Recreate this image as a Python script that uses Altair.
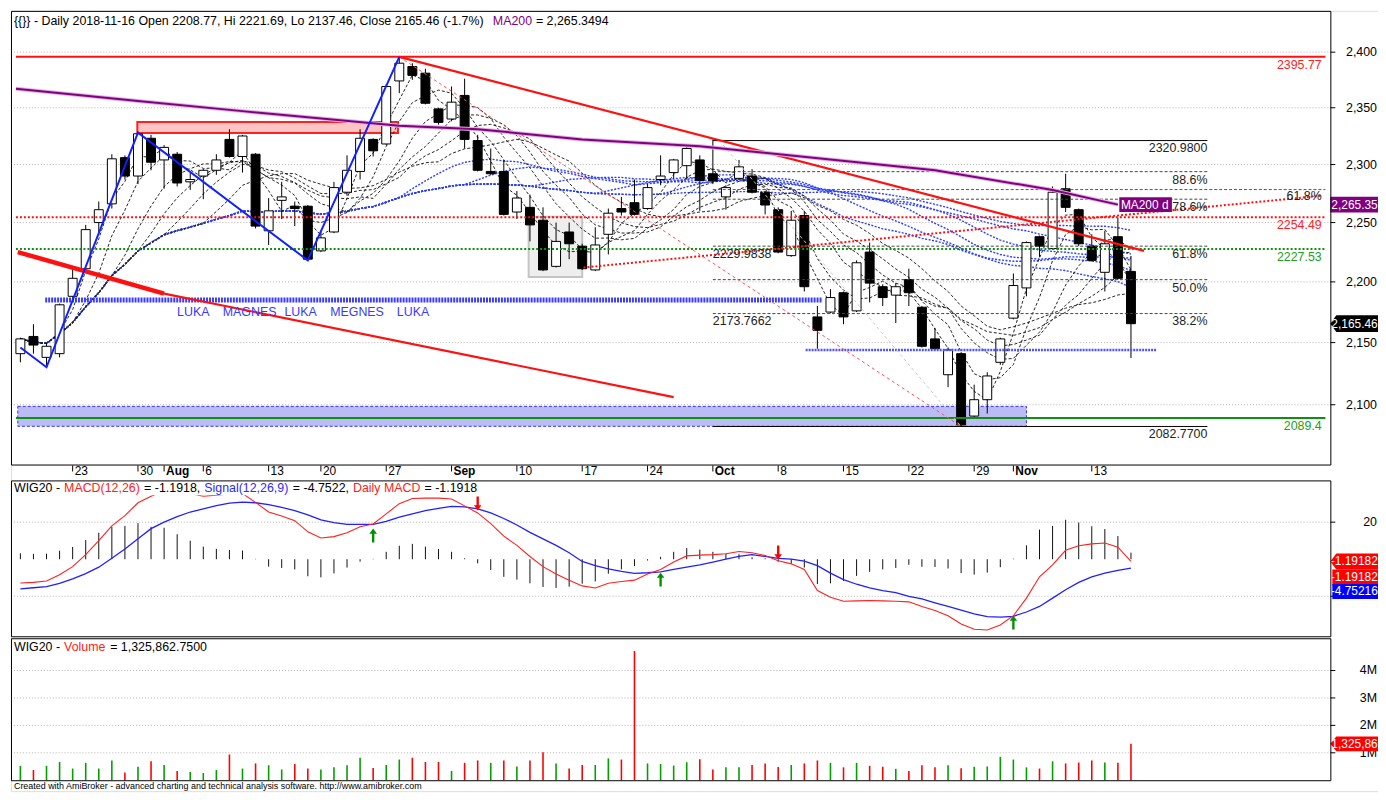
import altair as alt
import pandas as pd

FONT = "Liberation Sans"

# ---------------- data ----------------
idx = list(range(-4, 82))  # trading-day index, 0 = 2018-07-23

opens = [2141, 2155, 2138, 2141,
         2188, 2211, 2250, 2266, 2306,
         2290, 2323, 2304, 2309, 2285,
         2290, 2295, 2322, 2307, 2309,
         2243, 2269, 2264, 2264,
         2226, 2242, 2276, 2294, 2322,
         2318, 2374, 2387, 2381, 2349,
         2340, 2361, 2321, 2294, 2294,
         2259, 2263, 2252, 2213, 2242,
         2230, 2210, 2240, 2262, 2267,
         2262, 2287, 2293, 2299, 2304,
         2292, 2272, 2288, 2290, 2276,
         2261, 2222, 2256, 2171, 2175,
         2191, 2176, 2225, 2196, 2189,
         2202, 2179, 2153, 2124, 2141,
         2091, 2104, 2134, 2170,
         2195, 2238, 2228, 2279, 2261,
         2230, 2208, 2238, 2208.77]
highs = [2154, 2165, 2150, 2182,
         2211, 2248, 2268, 2309, 2308,
         2329, 2326, 2317, 2311, 2293,
         2296, 2309, 2331, 2326, 2310,
         2271, 2285, 2268, 2265,
         2242, 2285, 2308, 2331, 2323,
         2371, 2395.77, 2390, 2385, 2350,
         2369, 2376, 2326, 2314, 2304,
         2277, 2274, 2263, 2250, 2250,
         2232, 2246, 2262, 2272, 2287,
         2283, 2308, 2305, 2316, 2308,
         2322, 2282, 2304, 2296, 2277,
         2263, 2260, 2260, 2180, 2194,
         2192, 2218, 2233, 2198, 2199,
         2211, 2180, 2162, 2146, 2142,
         2116, 2126, 2154, 2207,
         2234, 2239, 2281, 2292, 2262,
         2240, 2243, 2254, 2221.69]
lows = [2134, 2141, 2130, 2138,
        2185, 2209, 2242, 2262, 2287,
        2283, 2295, 2279, 2281, 2278,
        2270, 2291, 2306, 2293, 2245,
        2231, 2253, 2247, 2218,
        2225, 2241, 2273, 2287, 2307,
        2317, 2363, 2375, 2353, 2335,
        2338, 2314, 2294, 2291, 2256,
        2253, 2234, 2209, 2212, 2219,
        2210, 2209, 2223, 2256, 2256,
        2261, 2282, 2288, 2287, 2260,
        2283, 2261, 2287, 2275, 2257,
        2224, 2221, 2192, 2145, 2174,
        2165, 2175, 2183, 2180, 2166,
        2180, 2146, 2144, 2114, 2082.77,
        2089, 2093, 2132, 2169,
        2188, 2221, 2227, 2259, 2230,
        2217, 2192, 2202, 2137.46]
closes = [2153, 2148, 2147, 2181,
          2203, 2244, 2261, 2305, 2290,
          2327, 2302, 2315, 2284, 2287,
          2295, 2304, 2307, 2325, 2247,
          2260, 2272, 2262, 2219,
          2237, 2280, 2295, 2323, 2312,
          2369, 2390, 2379, 2354, 2337,
          2355, 2322, 2295, 2292, 2257,
          2271, 2248, 2210, 2234, 2232,
          2211, 2231, 2258, 2259, 2257,
          2280, 2290, 2304, 2314, 2286,
          2286, 2280, 2298, 2276, 2265,
          2225, 2252, 2196, 2160, 2187,
          2171, 2216, 2199, 2187, 2196,
          2191, 2147, 2145, 2144, 2084,
          2104, 2123, 2153, 2197,
          2233, 2230, 2276, 2263, 2232,
          2218, 2232, 2203, 2165.46]

macd = [-12.8, -12.5, -11.8, -8.4,
        -4, 2.5, 10, 18, 23.5,
        30.5, 34, 37, 36.5, 35.5,
        34, 34.6, 35.3, 35.5, 30.7,
        25.5, 23.3, 20.8, 14.8,
        11.5, 12.2, 14.3, 17.5, 19,
        24.5, 30, 32.8, 33, 33,
        32.5, 28.8, 25, 19.2, 12.5,
        7.5, 1.5, -4, -8, -11.3,
        -14.4, -15.5, -13, -12, -11.3,
        -8, -5.5, -1.5, 1.8, 2.2,
        2.5, 3, 4.2, 3.5, 2,
        -0.8, -2.5, -5.5, -16.9, -20.5,
        -22.7, -22.5, -22.3, -22.5, -22.7,
        -23, -25.5, -27.7, -30.5, -35,
        -37.8, -38.2, -35.5, -30.5,
        -21, -9.5, -3, 4.8, 7.3,
        8.3, 8.8, 6.5, -1.19182]
signal = [-16, -15.4, -14.8, -13,
          -10.6, -7.8, -4.3, 0.5, 5.5,
          11, 16.5, 20, 23, 25.5,
          27.2, 29, 30.3, 30.8, 30.5,
          29.5, 28, 26.3, 24,
          21.3, 19.8, 18.8, 18.8, 18.8,
          20.5, 22.7, 24.5, 26.2, 27.5,
          28.5, 28.3, 27.2, 25, 22,
          18.5, 14.5, 11, 7.5, 3.5,
          -1.2, -3.5, -5.2, -6.5, -7.6,
          -7.3, -6.8, -5.5, -4.2, -3,
          -1.5, 0, 1.5, 2.5, 1.5,
          0.5, 0, -1, -3.5, -7.5,
          -11, -13.5, -15.5, -17, -18,
          -20, -21.4, -23.5, -25.5, -27.5,
          -29.5, -31, -31.2, -30.8,
          -28.5, -25.5, -21, -16.5, -12.5,
          -9.5, -7.5, -6, -4.75216]

volume_m = [0.525, 0.372, 0.525, 0.666,
            0.426, 0.634, 0.426, 0.721, 0.284,
            0.492, 0.689, 0.557, 0.339, 0.306,
            0.262, 0.372, 0.940, 0.426, 0.612,
            0.546, 0.393, 0.590, 0.426,
            0.393, 0.470, 0.546, 0.820, 0.448,
            0.557, 0.754, 0.820, 0.666, 0.666,
            0.339, 0.634, 0.721, 0.634, 0.721,
            0.503, 0.721, 1.016, 0.612, 0.426,
            0.557, 0.557, 0.798, 0.754, 4.71,
            0.612, 0.590, 0.535, 0.656, 0.765,
            0.393, 0.470, 0.470, 0.557, 0.612,
            0.481, 0.557, 0.612, 0.721, 0.634,
            0.470, 0.634, 0.525, 0.492, 0.415,
            0.339, 0.546, 0.470, 0.546, 0.437,
            0.492, 0.503, 0.852, 0.754,
            0.470, 0.426, 0.689, 0.612, 0.645,
            0.721, 0.645, 0.634, 1.3258627500]
volume_up = [1, 0, 1, 1,
             1, 1, 1, 1, 0,
             1, 0, 1, 0, 1,
             1, 1, 0, 1, 0,
             1, 1, 0, 0,
             1, 1, 1, 1, 0,
             1, 1, 0, 0, 0,
             1, 0, 0, 1, 0,
             1, 0, 0, 1, 0,
             0, 1, 1, 0, 0,
             1, 1, 1, 1, 0,
             0, 1, 1, 0, 0,
             0, 1, 0, 0, 1,
             0, 1, 0, 0, 1,
             0, 0, 0, 1, 0,
             1, 1, 1, 1,
             1, 0, 1, 0, 0,
             0, 1, 0, 0]

date_ticks = [0, 5, 7, 10, 15, 19, 24, 29, 34, 39, 44, 49, 54, 59, 64, 69, 72, 78]
date_labels = ["23", "30", "Aug", "6", "13", "20", "27", "Sep", "10", "17", "24",
               "Oct", "8", "15", "22", "29", "Nov", "13"]
date_bold = [0, 0, 1, 0, 0, 0, 0, 1, 0, 0, 0, 1, 0, 0, 0, 0, 1, 0]
price_ticks = [2100, 2150, 2200, 2250, 2300, 2350, 2400]
macd_ticks = [20, -20]
macd_tick_labels = ["20", ""]
volume_ticks = [1e6, 2e6, 3e6, 4e6]
volume_tick_labels = ["1M", "2M", "3M", "4M"]

black_periods = [3, 5, 8, 10, 12, 15]
blue_periods = [30, 35, 40, 45, 50, 60]

zigzag_i = [-4, -2, 5, 18, 25]
zigzag_p = [2146, 2130, 2328, 2218, 2395.77]
ma200_i = [-4.34, 5, 13, 25, 31, 39, 48, 66, 75, 80]
ma200_p = [2367, 2356, 2347, 2334, 2331, 2322, 2316, 2295, 2278, 2265.35]
fib_levels = [2293.82, 2270.00, 2229.98, 2201.88, 2173.77]
fib_names = ["88.6%", "78.6%", "61.8%", "50.0%", "38.2%"]

up_i = [23, 45, 72]
up_v = [12.8, -11.0, -34.2]
dn_i = [31, 54]
dn_v = [30.1, 3.6]

# ---------------- geometry (svg pixels; page = svg + 8) ----------------
SVG_W, SVG_H = 1377, 786
XMIN, XMAX = -4.34, 95.88
XL, XR = 0, 1329             # panel frame left / right
P_TOP, P_BOT = 0.5, 457.5    # price frame
M_TOP, M_BOT = 473.5, 630.5  # MACD frame
V_TOP, V_BOT = 632.5, 775.5  # volume frame

XS = alt.Scale(domain=[XMIN, XMAX], range=[XL, XR], nice=False, zero=False)
YS = alt.Scale(type="log", domain=[2052.96, 2437.86], range=[457, 0], nice=False)
MS = alt.Scale(domain=[-41.6, 42.55], range=[630, 473], nice=False, zero=False)
VS = alt.Scale(domain=[0, 5.14e6], range=[775, 633], nice=False, zero=False)

ONE = pd.DataFrame({"a": [0]})


def X(f):
    return alt.X(f, type="quantitative", scale=XS, axis=None)


def Y(f, s):
    return alt.Y(f, type="quantitative", scale=s, axis=None)


def label(t, px, py, color="black", size=12.5, align="left", weight="normal"):
    return alt.Chart(ONE).mark_text(
        text=t, align=align, baseline="middle", font=FONT, fontSize=size,
        color=color, fontWeight=weight
    ).encode(x=alt.value(px), y=alt.value(py))


def frame(y1, y2):
    return alt.Chart(ONE).mark_rect(fillOpacity=0, stroke="black", strokeWidth=1).encode(
        x=alt.value(XL + 0.5), x2=alt.value(XR + 0.5), y=alt.value(y1), y2=alt.value(y2))


def right_axis(values, texts, s):
    d = pd.DataFrame({"v": values, "t": texts})
    grid = alt.Chart(d).mark_rule(color="#b4b4b4", strokeDash=[1, 2], strokeWidth=1).encode(
        x=alt.value(XL), x2=alt.value(XR), y=Y("v", s))
    ticks = alt.Chart(d).mark_rule(color="black", strokeWidth=1).encode(
        x=alt.value(XR), x2=alt.value(XR + 5), y=Y("v", s))
    labs = alt.Chart(d).mark_text(align="right", baseline="middle", font=FONT,
                                  fontSize=12.5, color="black").encode(
        x=alt.value(1376), y=Y("v", s), text="t:N")
    return [grid, ticks, labs]


def box_path(w, h, tip=0.0):
    r = h / w
    if tip:
        a = 1 - 2 * tip / w
        return f"M-1,0L{-a:.4f},{-r:.4f}L1,{-r:.4f}L1,{r:.4f}L{-a:.4f},{r:.4f}Z"
    return f"M-1,{-r:.4f}L1,{-r:.4f}L1,{r:.4f}L-1,{r:.4f}Z"


def value_box(s, value, cx, w, h, fill, text, tx, tip=0.0):
    d = pd.DataFrame({"v": [value]})
    b = alt.Chart(d).mark_point(
        shape=box_path(w, h, tip), size=w * w, filled=True, color=fill,
        opacity=1, strokeWidth=0
    ).encode(x=alt.value(cx), y=Y("v", s))
    t = alt.Chart(d).mark_text(
        text=text, align="left", baseline="middle", color="white",
        font=FONT, fontSize=12
    ).encode(x=alt.value(tx), y=Y("v", s))
    return [b, t]


def hseg(i1, i2, p, color, width, dash=None):
    d = pd.DataFrame({"i1": [i1], "i2": [i2], "p": [p]})
    kw = dict(color=color, strokeWidth=width)
    if dash:
        kw["strokeDash"] = dash
    return alt.Chart(d).mark_rule(**kw).encode(x=X("i1"), x2="i2:Q", y=Y("p", YS))


def seg(i_list, p_list, color, width, dash=None):
    d = pd.DataFrame({"i": i_list, "p": p_list, "o": list(range(len(i_list)))})
    kw = dict(color=color, strokeWidth=width)
    if dash:
        kw["strokeDash"] = dash
    return alt.Chart(d).mark_line(**kw).encode(x=X("i"), y=Y("p", YS), order="o:Q")


def rect(i1, i2, p1, p2, fill, stroke, sw, dash=None, op=1.0):
    d = pd.DataFrame({"i1": [i1], "i2": [i2], "p1": [p1], "p2": [p2]})
    kw = dict(fill=fill, stroke=stroke, strokeWidth=sw, fillOpacity=op)
    if dash:
        kw["strokeDash"] = dash
    return alt.Chart(d).mark_rect(**kw).encode(x=X("i1"), x2="i2:Q", y=Y("p1", YS), y2="p2:Q")


def ptext(i_list, p_list, t_list, color, align, baseline="top", dy=2):
    d = pd.DataFrame({"i": i_list, "p": p_list, "t": t_list})
    return alt.Chart(d).mark_text(
        align=align, baseline=baseline, dy=dy, font=FONT, fontSize=12.5, color=color
    ).encode(x=X("i"), y=Y("p", YS), text="t:N")


# ---------------- price panel ----------------
df = pd.DataFrame({"i": idx, "o": opens, "h": highs, "l": lows, "c": closes})

wick = alt.Chart(df).mark_rule(color="black", strokeWidth=1).encode(
    x=X("i"), y=Y("l", YS), y2="h:Q")
body = alt.Chart(df).mark_bar(size=9, stroke="black", strokeWidth=1).encode(
    x=X("i"), y=Y("o", YS), y2="c:Q",
    fill=alt.condition("datum.c >= datum.o", alt.value("white"), alt.value("black")),
)

rib = alt.Chart(df)
for n in black_periods + blue_periods:
    rib = rib.transform_window(**{f"m{n}": "mean(c)"}, frame=[-(n - 1), 0],
                               sort=[alt.SortField("i")])
rib_black = rib.transform_fold([f"m{n}" for n in black_periods], as_=["k", "v"]).mark_line(
    color="#222222", strokeWidth=1, strokeDash=[3, 2]
).encode(x=X("i"), y=Y("v", YS), detail="k:N")
rib_blue = rib.transform_fold([f"m{n}" for n in blue_periods], as_=["k", "v"]).mark_line(
    color="#2a3cff", strokeWidth=1.4, strokeDash=[2, 1.5]
).encode(x=X("i"), y=Y("v", YS), detail="k:N")

fib_end = 86.85
RIGHT_I = 95.6
layers = []
layers += right_axis(price_ticks, [f"{p:,}" for p in price_ticks], YS)
layers += [
    rect(-4.2, 73.0, 2098.7, 2082.9, "#b8b8f4", "#3030ff", 1, [3, 2], 0.95),
    rect(4.95, 24.9, 2337.3, 2327.6, "#ffc4c4", "#ff2020", 2),
    rect(34.9, 39.0, 2255.0, 2204.0, "#eeeeee", "#c4c4c4", 2),
    rib_blue,
    rib_black,
    wick,
    body,
    hseg(XMIN, XMAX, 2395.77, "#ff1010", 2),
    hseg(XMIN, XMAX, 2254.49, "#ff1010", 2, [2, 2]),
    hseg(XMIN, XMAX, 2227.53, "#109010", 2, [2, 2]),
    hseg(XMIN, XMAX, 2089.4, "#109010", 2),
    hseg(49, fib_end, 2320.98, "black", 1),
    hseg(49, fib_end, 2082.77, "black", 1),
    hseg(49, XMAX, 2278.3, "#555555", 1, [3, 2]),
    hseg(-2.1, 57.4, 2185.0, "#3c3cff", 5, [2, 1]),
    hseg(56.1, 83.0, 2144.0, "#5050ff", 2.5, [2, 1]),
]
for lv in fib_levels:
    layers.append(hseg(49, fib_end, lv, "#444444", 1, [3, 2]))

layers += [
    seg([25, 68], [2395.77, 2082.77], "#ff5050", 1, [3, 3]),
    seg([49.5, 68], [2320.98, 2082.77], "#c8c8c8", 1, [3, 3]),
    seg([-4.2, 7.0], [2225.0, 2190.3], "#ff1010", 4.5),
    seg([7.0, 46.0], [2190.3, 2106.0], "#ff1010", 2.2),
    seg([25, 82.0], [2395.77, 2226.0], "#ff1010", 2.2),
    seg([39.1, RIGHT_I], [2212.0, 2273.0], "#ff1010", 2, [2, 2]),
    seg(ma200_i, ma200_p, "#e0b0e0", 4),
    seg(ma200_i, ma200_p, "#800080", 2),
    seg(zigzag_i, zigzag_p, "#1020ff", 2),
    ptext([7.99, 11.49, 16.21, 19.71, 24.81], [2175.3] * 5,
          ["LUKA", "MAGNES", "LUKA", "MEGNES", "LUKA"], "#3a3aff", "left", "middle", 0),
    ptext([fib_end] * 7, [2320.98] + fib_levels + [2082.77],
          ["2320.9800"] + fib_names + ["2082.7700"], "#222222", "right"),
    ptext([49, 49], [2229.98, 2173.77], ["2229.9838", "2173.7662"], "#222222", "left"),
    ptext([RIGHT_I, RIGHT_I], [2395.77, 2254.49], ["2395.77", "2254.49"], "#ff2020", "right"),
    ptext([RIGHT_I, RIGHT_I], [2227.53, 2089.4], ["2227.53", "2089.4"], "#20a020", "right"),
    ptext([RIGHT_I], [2278.3], ["61.8%"], "#222222", "right", "top", 1),
]

layers += value_box(YS, 2265.35, 1142.9, 53, 15, "#800080", "MA200 d", 1118)
layers += value_box(YS, 2265.35, 1353, 48, 16, "#800080", "2,265.35", 1330)
layers += value_box(YS, 2165.46, 1353, 48, 17, "black", "2,165.46", 1330, tip=6)

layers += [
    label("{{}} - Daily 2018-11-16 Open 2208.77, Hi 2221.69, Lo 2137.46, Close 2165.46 (-1.7%)", 3, 9.8),
    label("MA200", 485.4, 9.8, color="#800080"),
    label("= 2,265.3494", 528.8, 9.8),
]

# date axis between price and MACD panels
ddf = pd.DataFrame({"i": date_ticks, "t": date_labels, "b": date_bold})
layers += [
    alt.Chart(ddf).mark_rule(color="black", strokeWidth=1).encode(
        x=X("i"), y=alt.value(458), y2=alt.value(464)),
    alt.Chart(ddf).transform_filter("datum.b == 0").mark_text(
        align="left", baseline="middle", dx=2, font=FONT, fontSize=12, color="black"
    ).encode(x=X("i"), y=alt.value(464), text="t:N"),
    alt.Chart(ddf).transform_filter("datum.b == 1").mark_text(
        align="left", baseline="middle", dx=2, font=FONT, fontSize=12, color="black",
        fontWeight="bold"
    ).encode(x=X("i"), y=alt.value(464), text="t:N"),
]

# ---------------- MACD panel ----------------
mdf = pd.DataFrame({"i": idx, "m": macd, "s": signal})
layers += right_axis(macd_ticks, macd_tick_labels, MS)
layers += [
    alt.Chart(mdf).transform_calculate(hist="datum.m - datum.s", zero="0").mark_rule(
        color="#111111", strokeWidth=1).encode(x=X("i"), y=Y("hist", MS), y2="zero:Q"),
    alt.Chart(mdf).mark_line(color="#2020ff", strokeWidth=1.3).encode(x=X("i"), y=Y("s", MS)),
    alt.Chart(mdf).mark_line(color="#ff2020", strokeWidth=1.1).encode(x=X("i"), y=Y("m", MS)),
]
ARROW_UP = "M0,-1L0.55,-0.25L0.17,-0.25L0.17,1L-0.17,1L-0.17,-0.25L-0.55,-0.25Z"
ARROW_DN = "M0,1L0.55,0.25L0.17,0.25L0.17,-1L-0.17,-1L-0.17,0.25L-0.55,0.25Z"
layers += [
    alt.Chart(pd.DataFrame({"i": up_i, "v": up_v})).mark_point(
        shape=ARROW_UP, size=196, filled=True, color="#009000", opacity=1, strokeWidth=0
    ).encode(x=X("i"), y=Y("v", MS)),
    alt.Chart(pd.DataFrame({"i": dn_i, "v": dn_v})).mark_point(
        shape=ARROW_DN, size=196, filled=True, color="#ff0000", opacity=1, strokeWidth=0
    ).encode(x=X("i"), y=Y("v", MS)),
    alt.Chart(ONE).mark_rect(color="white").encode(
        x=alt.value(2), x2=alt.value(472), y=alt.value(475), y2=alt.value(488)),
    label("WIG20 -", 3, 481),
    label("MACD(12,26)", 53.5, 481, color="#ff2020"),
    label("= -1.1918,", 134.1, 481),
    label("Signal(12,26,9)", 194.7, 481, color="#2a2aff"),
    label("= -4.7522,", 283.9, 481),
    label("Daily MACD", 344.5, 481, color="#ff2020"),
    label("= -1.1918", 416.6, 481),
]
layers += value_box(MS, -1.19182, 1353, 48, 16, "#ff0000", "-1.19182", 1329.5, tip=6)
layers += value_box(MS, -9.8, 1354, 46, 16, "#ff0000", "-1.19182", 1329.5)
layers += value_box(MS, -17.4, 1354, 46, 15, "#0000ff", "-4.75216", 1329.5)

# ---------------- volume panel ----------------
vdf = pd.DataFrame({"i": idx, "v": [v * 1e6 for v in volume_m], "up": volume_up})
layers += right_axis(volume_ticks, volume_tick_labels, VS)
layers += [
    alt.Chart(vdf).transform_calculate(zero="0").mark_rule(strokeWidth=1.6).encode(
        x=X("i"), y=Y("v", VS), y2="zero:Q",
        color=alt.condition("datum.up == 1", alt.value("#00a000"), alt.value("#ff0000"))),
    label("WIG20 -", 3, 640.4),
    label("Volume", 53.5, 640.4, color="#ff2020"),
    label("= 1,325,862.7500", 99.9, 640.4),
]
layers += value_box(VS, 1325862.75, 1353, 48, 15, "#ff0000", "1,325,86", 1330, tip=6)

# frames and footer
layers += [
    frame(P_TOP, P_BOT),
    frame(M_TOP, M_BOT),
    frame(V_TOP, V_BOT),
    label("Created with AmiBroker - advanced charting and technical analysis software. http://www.amibroker.com",
          3, 781, size=9),
]

chart = alt.layer(*layers).resolve_scale(y="independent").properties(
    width=SVG_W, height=SVG_H, padding=0,
).configure_view(strokeWidth=0).configure(background="white")

chart.save("out.html", embed_options={"renderer": "svg", "actions": False})
